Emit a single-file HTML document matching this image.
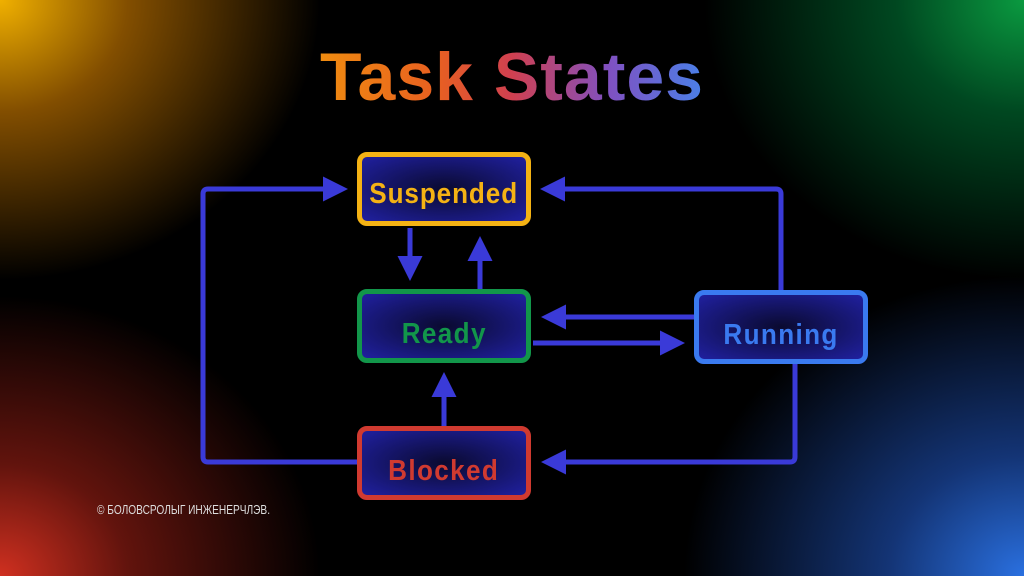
<!DOCTYPE html>
<html><head><meta charset="utf-8"><style>
html,body{margin:0;padding:0}
body{width:1024px;height:576px;overflow:hidden;background:#000;position:relative;font-family:"Liberation Sans",sans-serif}
.bg{position:absolute;inset:0;background:
radial-gradient(ellipse 320px 280px at 0px 0px,#f0b000 0%,rgba(200,120,0,.65) 40%,rgba(0,0,0,0) 100%),
radial-gradient(ellipse 320px 280px at 1024px 0px,#0a9a40 0%,rgba(0,110,50,.65) 40%,rgba(0,0,0,0) 100%),
radial-gradient(ellipse 320px 280px at 0px 576px,#d03020 0%,rgba(150,30,20,.65) 40%,rgba(0,0,0,0) 100%),
radial-gradient(ellipse 340px 300px at 1024px 576px,#2a70e0 0%,rgba(30,80,180,.65) 40%,rgba(0,0,0,0) 100%),#000}
.tw{position:absolute;left:0;width:1024px;top:38px;text-align:center}
h1{display:inline-block;margin:0;font-size:68px;font-weight:bold;letter-spacing:1px;
background:linear-gradient(90deg,#f08c10 0%,#e86020 30%,#d04050 50%,#8050c0 75%,#4a80e8 100%);-webkit-background-clip:text;background-clip:text;color:transparent}
.box{position:absolute;width:164px;height:64px;border-radius:10px;border:5px solid;box-sizing:content-box;
background:radial-gradient(ellipse at center,#0a0a30 0%,#2020a0 100%);display:flex;align-items:center;justify-content:center;
font-weight:bold;font-size:29px;white-space:nowrap;letter-spacing:1.5px}
.box span{position:relative;top:8px;display:inline-block;transform:scaleX(.9)}
.copy{position:absolute;left:97px;top:502px;color:#ddd;font-size:13px;white-space:nowrap;transform:scaleX(.78);transform-origin:left}
</style></head><body>
<div class="bg"></div>
<div class="tw"><h1>Task States</h1></div>
<svg width="1024" height="576" style="position:absolute;left:0;top:0">
<defs><marker id="a" markerWidth="5" markerHeight="5" refX="4" refY="2.5" orient="auto" markerUnits="strokeWidth">
<path d="M0,0 L5,2.5 L0,5 z" fill="#3a3ad8"/></marker></defs>
<g stroke="#3a3ad8" stroke-width="5" fill="none" stroke-linejoin="round">
<path d="M357,462 H208 Q203,462 203,457 V194 Q203,189 208,189 H343" marker-end="url(#a)"/>
<path d="M781,290 V194 Q781,189 776,189 H545" marker-end="url(#a)"/>
<path d="M410,228 V276" marker-end="url(#a)"/>
<path d="M480,289 V241" marker-end="url(#a)"/>
<path d="M694,317 H546" marker-end="url(#a)"/>
<path d="M533,343 H680" marker-end="url(#a)"/>
<path d="M444,426 V377" marker-end="url(#a)"/>
<path d="M795,362 V457 Q795,462 790,462 H546" marker-end="url(#a)"/>
</g></svg>
<div class="box" style="left:357px;top:152px;border-color:#f4b214;color:#f4b214"><span style="top:5px;letter-spacing:1px">Suspended</span></div>
<div class="box" style="left:357px;top:289px;border-color:#12964a;color:#12964a"><span>Ready</span></div>
<div class="box" style="left:694px;top:290px;border-color:#3a7af0;color:#3a7af0"><span>Running</span></div>
<div class="box" style="left:357px;top:426px;border-color:#d03a30;color:#d03a30"><span>Blocked</span></div>
<div class="copy">© БОЛОВСРОЛЫГ ИНЖЕНЕРЧЛЭВ.</div>
</body></html>
